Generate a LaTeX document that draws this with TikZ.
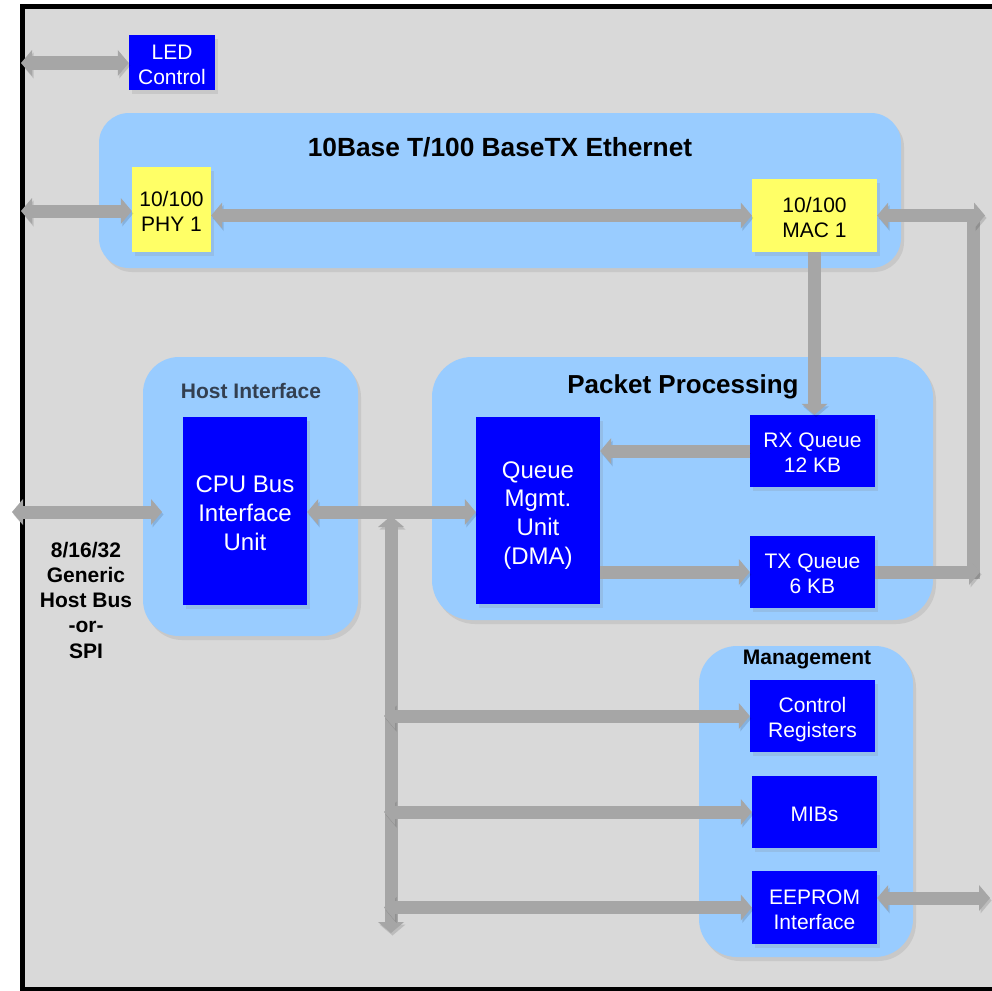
\documentclass[tikz,border=0pt]{standalone}
\usepackage{fontspec}
\setmainfont{Liberation Sans}
\usetikzlibrary{arrows.meta,shadows,calc}
\definecolor{bgGray}{HTML}{D9D9D9}
\definecolor{contBlue}{HTML}{99CCFF}
\definecolor{boxBlue}{HTML}{0000FF}
\definecolor{boxYellow}{HTML}{FFFF66}
\definecolor{arrGray}{HTML}{A6A6A6}
\definecolor{titleSlate}{HTML}{333F50}
\newcommand\fsz[2]{\fontsize{#1}{#2}\selectfont}
\newcommand\nodepth[1]{\raisebox{0pt}[\height][0pt]{#1}}
\newcommand\ts{\rule{0pt}{0.88em}}
\begin{document}
\begin{tikzpicture}[x=1pt,y=-1pt,
  softshadow/.style={drop shadow={opacity=0.18,shadow xshift=3pt,shadow yshift=-4pt}},
  container/.style={fill=contBlue,draw=none,rounded corners=#1,inner sep=0pt,softshadow},
  bluebox/.style={fill=boxBlue,text=white,inner sep=0pt,align=center,font=\fsz{21}{25},softshadow},
  bigbox/.style={bluebox,font=\fsz{24}{28.7}},
  yellowbox/.style={fill=boxYellow,text=black,inner sep=0pt,align=center,font=\fsz{21}{25},softshadow},
  titletext/.style={anchor=base,inner sep=0pt,font=\bfseries\fsz{21}{25}},
  bus/.style={draw=arrGray,line width=13pt,
    preaction={draw=black,opacity=0.13,transform canvas={shift={(1.5pt,-2.5pt)}}}},
  >={Triangle[length=11pt,width=26pt,line width=0pt]}
]
\useasboundingbox (0,0) rectangle (992,990);
\clip (0,0) rectangle (992,990);
% frame
\draw[line width=5pt,fill=bgGray] (22.5,6.5) rectangle (1010,989.5);

% containers
\node[container=30pt,minimum width=802pt,minimum height=155pt] (eth) at (500,190.5) {};
\node[container=36pt,minimum width=215pt,minimum height=279pt] (host) at (250.5,496.5) {};
\node[container=40pt,minimum width=501pt,minimum height=263pt] (pkt) at (682.5,488.5) {};
\node[container=38pt,minimum width=214pt,minimum height=311pt] (mgmt) at (806,801.5) {};

% titles
\node[titletext,font=\bfseries\fsz{26.3}{30}] (ethT) at (500,156) {10Base T/100 BaseTX Ethernet};
\node[titletext,font=\bfseries\fsz{26}{30}] (pktT) at (683,393) {Packet Processing};
\node[titletext,text=titleSlate] (hostT) at (251,398) {Host Interface};
\node[titletext] (mgmtT) at (807,664) {Management};
\node[inner sep=0pt,align=center,font=\bfseries\fsz{21}{25.25}] (busLabel) at (86,600) {8/16/32\\Generic\\Host Bus\\-or-\\SPI};

% boxes
\node[bluebox,minimum width=86pt,minimum height=55pt] (led) at (172,62.5) {\ts LED\\Control};
\node[yellowbox,minimum width=79pt,minimum height=85pt] (phy) at (171.5,209.5) {\ts 10/100\\PHY 1};
\node[yellowbox,minimum width=125pt,minimum height=73pt] (mac) at (814.5,215.5) {\ts 10/100\\MAC 1};
\node[bigbox,minimum width=124pt,minimum height=188pt] (cpu) at (245,511) {\ts CPU Bus\\Interface\\Unit};
\node[bigbox,minimum width=124pt,minimum height=187pt] (qmu) at (538,510.5) {\ts Queue\\Mgmt.\\Unit\\\nodepth{(DMA)}};
\node[bluebox,minimum width=125pt,minimum height=72pt] (rx) at (812.5,451) {\ts RX Queue\\12 KB};
\node[bluebox,minimum width=125pt,minimum height=72pt] (tx) at (812.5,572) {\ts TX Queue\\6 KB};
\node[bluebox,minimum width=125pt,minimum height=72pt] (creg) at (812.5,716) {\ts Control\\\nodepth{Registers}};
\node[bluebox,minimum width=125pt,minimum height=72pt] (mib) at (814.5,812) {\ts MIBs};
\node[bluebox,minimum width=125pt,minimum height=73pt] (eep) at (814.5,907.5) {\ts EEPROM\\Interface};

% free ends
\coordinate (ledL) at (21,63);
\coordinate (phyL) at (21,211);
\coordinate (macR) at (985,215.5);
\coordinate (cTop) at (973,215.5);
\coordinate (cBot) at (973,572);
\coordinate (txR) at (980,572);
\coordinate (hostL) at (12,512);
\coordinate (hostR) at (162,512);
\coordinate (busTop) at (391,516);
\coordinate (busBot) at (391,933);
\coordinate (busL) at (384,0);
\coordinate (eepR) at (990,898);

% connectors
\draw[bus,<->] (ledL) -- (ledL -| led.west);
\draw[bus,<->] (phyL) -- (phyL -| phy.west);
\draw[bus,<->] (phy.east |- mac.west) -- (mac.west);
\draw[bus,line cap=rect] (cTop) -- (cBot);
\draw[bus,<->] (mac.east) -- (macR);
\draw[bus,->] (tx.east) -- (txR);
\draw[bus,->] (mac.south) -- (mac.south |- rx.north);
\draw[bus,->] (rx.west) -- (rx.west -| qmu.east);
\draw[bus,->] (qmu.east |- tx.west) -- (tx.west);
\draw[bus,<->] (hostL) -- (hostR);
\draw[bus,<->] (busBot) -- (busTop);
\draw[bus,<->] (cpu.east |- hostR) -- (hostR -| qmu.west);
\draw[bus,<->] (creg.west -| busL) -- (creg.west);
\draw[bus,<->] (mib.west -| busL) -- (mib.west);
\draw[bus,<->] (eep.west -| busL) -- (eep.west);
\draw[bus,<->] (eep.east |- eepR) -- (eepR);
\end{tikzpicture}
\end{document}
